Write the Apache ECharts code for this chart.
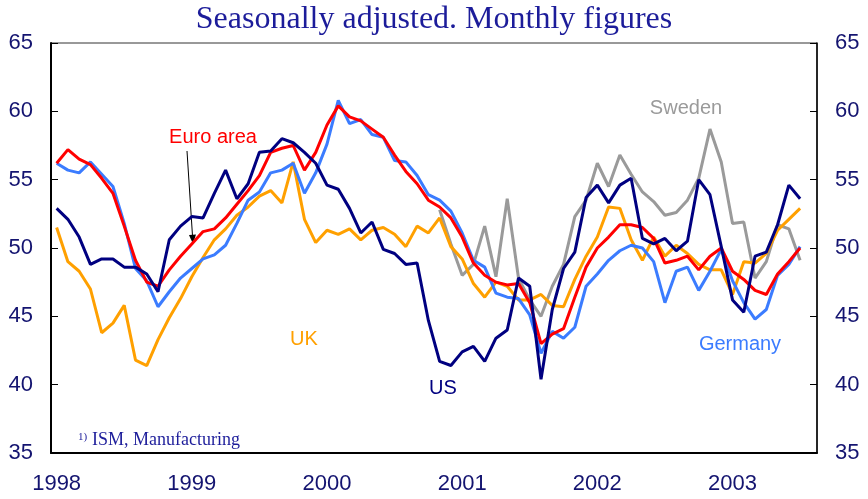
<!DOCTYPE html>
<html>
<head>
	<meta charset="utf-8"/>
	<title>PMI</title>
</head>
<body style="margin: 0; background: #fff;">

	<div id="chart" style="width: 868px; height: 499px;"></div>

	<script src="https://cdn.jsdelivr.net/npm/echarts@6/dist/echarts.min.js"></script>
	<script>

		// months Jan 1998 .. Aug 2003
		var years = ['1998', '1999', '2000', '2001', '2002', '2003'];
		var monthCount = 68;

		var euroArea = [56.2, 57.2, 56.5, 56.1, 55.1, 54.0, 51.6, 49.1, 47.5, 47.2, 48.4, 49.4,
			50.3, 51.2, 51.4, 52.2, 53.2, 54.2, 55.3, 57.0, 57.3, 57.5, 55.7, 57.0,
			59.0, 60.4, 59.6, 59.3, 58.7, 58.1, 56.8, 55.6, 54.7, 53.5, 53.0, 52.2,
			50.8, 48.9, 48.0, 47.5, 47.3, 47.4, 46.0, 43.0, 43.7, 44.1, 46.4, 48.6,
			50.0, 50.8, 51.7, 51.7, 51.5, 50.7, 48.9, 49.1, 49.4, 48.4, 49.4, 50.0,
			48.3, 47.7, 46.9, 46.6, 48.1, 49.0, 50.0];

		var germany = [56.2, 55.7, 55.5, 56.3, 55.4, 54.5, 51.8, 48.5, 47.6, 45.7, 46.8, 47.8,
			48.5, 49.2, 49.5, 50.2, 51.8, 53.5, 54.1, 55.5, 55.7, 56.2, 54.0, 55.5,
			57.6, 60.8, 59.1, 59.4, 58.3, 58.1, 56.4, 56.3, 55.3, 53.9, 53.5, 52.7,
			51.1, 49.1, 48.6, 46.7, 46.4, 46.3, 45.1, 42.3, 43.9, 43.4, 44.2, 47.2,
			48.1, 49.1, 49.8, 50.2, 50.0, 49.0, 46.0, 48.3, 48.6, 46.9, 48.3, 49.9,
			47.6, 46.0, 44.8, 45.5, 48.0, 48.8, 50.1];

		var us = [52.9, 52.1, 50.8, 48.8, 49.2, 49.2, 48.6, 48.6, 48.1, 46.8, 50.6, 51.6,
			52.3, 52.2, 54.0, 55.7, 53.6, 54.7, 57.0, 57.1, 58.0, 57.7, 57.0, 56.2,
			54.6, 54.3, 52.9, 51.1, 51.9, 49.9, 49.6, 48.8, 48.9, 44.7, 41.7, 41.4,
			42.4, 42.8, 41.7, 43.4, 44.0, 47.8, 47.2, 40.4, 45.5, 48.5, 49.7, 53.7,
			54.6, 53.3, 54.6, 55.1, 50.7, 50.3, 50.7, 49.8, 50.5, 55.0, 53.9, 50.1,
			46.2, 45.3, 49.4, 49.7, 51.7, 54.6, 53.6];

		var uk = [51.5, 49.0, 48.3, 47.0, 43.8, 44.5, 45.8, 41.8, 41.4, 43.3, 44.9, 46.3,
			47.9, 49.3, 50.6, 51.4, 52.4, 53.0, 53.8, 54.2, 53.3, 56.3, 52.1, 50.4,
			51.3, 51.0, 51.4, 50.6, 51.3, 51.5, 51.0, 50.1, 51.6, 51.1, 52.2, 50.1,
			49.2, 47.4, 46.4, 47.5, 47.2, 46.2, 46.2, 46.6, 45.8, 45.7, 47.7, 49.4,
			50.8, 53.0, 52.9, 50.6, 49.1, 50.8, 49.4, 50.2, 49.6, 48.8, 48.4, 48.4,
			46.6, 49.0, 48.9, 49.6, 51.3, 52.1, 52.9];

		var sweden = [null, null, null, null, null, null, null, null, null, null, null, null,
			null, null, null, null, null, null, null, null, null, null, null, null,
			null, null, null, null, null, null, null, null, null, null, 52.8, 50.3,
			48.0, 48.8, 51.6, 47.9, 53.6, 47.8, 46.2, 45.0, 47.2, 48.8, 52.3, 53.5,
			56.2, 54.5, 56.8, 55.4, 54.1, 53.4, 52.4, 52.6, 53.5, 55.1, 58.7, 56.3,
			51.8, 51.9, 47.8, 49.0, 51.7, 51.4, 49.1];

		var yTicks = [35, 40, 45, 50, 55, 60, 65];

		var months = [];
		for (var i = 0; i < monthCount; i++) {
			months.push(years[Math.floor(i / 12)] || '2003');
		}

		var textColor = '#141470';
		var labelFont = 'Liberation Sans, Arial, sans-serif';

		function lineSeries (name, data, color) {
			return {
				name: name,
				type: 'line',
				data: data,
				symbol: 'none',
				connectNulls: false,
				lineStyle: { color: color, width: 3 },
				itemStyle: { color: color }
			};
		}

		function yAxisOpt (pos) {
			return {
				type: 'value',
				position: pos,
				min: yTicks[0],
				max: yTicks[yTicks.length - 1],
				interval: 5,
				splitLine: { show: false },
				axisLine: { show: true, lineStyle: { color: '#000', width: pos === 'left' ? 2 : 1.5 } },
				axisTick: { show: true, inside: true, length: 7, lineStyle: { color: '#000' } },
				axisLabel: { color: textColor, fontSize: 22, fontFamily: labelFont, margin: 18 }
			};
		}

		var myChart = echarts.init(document.getElementById('chart'));

		var option = {
			animation: false,
			grid: {
				left: 51, right: 51, top: 43, bottom: 46,
				show: true, borderColor: '#333', borderWidth: 1
			},
			xAxis: {
				type: 'category',
				data: months,
				boundaryGap: true,
				axisLine: { lineStyle: { color: '#000', width: 2 } },
				axisTick: {
					inside: true, length: 7,
					lineStyle: { color: '#000' },
					interval: function (index) { return index % 12 === 0; }
				},
				axisLabel: {
					color: textColor, fontSize: 22, fontFamily: labelFont, margin: 20,
					interval: function (index) { return index % 12 === 0; }
				}
			},
			yAxis: [yAxisOpt('left'), yAxisOpt('right')],
			series: [
				lineSeries('Sweden', sweden, '#9a9a9a'),
				lineSeries('UK', uk, '#ffa000'),
				lineSeries('Germany', germany, '#3b7cff'),
				lineSeries('Euro area', euroArea, '#ff0000'),
				lineSeries('US', us, '#000080')
			],
			graphic: [
				{ type: 'text', left: 'center', top: 4, style: { text: 'Seasonally adjusted. Monthly figures', font: '32px "Liberation Serif", "Times New Roman", serif', fill: '#1c1c9a' } },
				{ type: 'text', x: 213, y: 137, style: { text: 'Euro area', font: '20px ' + labelFont, fill: '#ff0000', align: 'center', verticalAlign: 'middle' } },
				{ type: 'text', x: 686, y: 108, style: { text: 'Sweden', font: '20px ' + labelFont, fill: '#9a9a9a', align: 'center', verticalAlign: 'middle' } },
				{ type: 'text', x: 304, y: 339, style: { text: 'UK', font: '20px ' + labelFont, fill: '#ffa000', align: 'center', verticalAlign: 'middle' } },
				{ type: 'text', x: 443, y: 388, style: { text: 'US', font: '20px ' + labelFont, fill: '#000080', align: 'center', verticalAlign: 'middle' } },
				{ type: 'text', x: 740, y: 344, style: { text: 'Germany', font: '20px ' + labelFont, fill: '#3b7cff', align: 'center', verticalAlign: 'middle' } },
				// arrow from label to euro line
				{ type: 'line', shape: { x1: 187, y1: 151, x2: 192.5, y2: 236 }, style: { stroke: '#000', lineWidth: 1 } },
				{ type: 'polygon', shape: { points: [[189, 235], [196, 234.5], [193, 244]] }, style: { fill: '#000' } },
				// footnote
				{ type: 'text', x: 78, y: 432, style: { text: '1)', font: '11px "Liberation Serif", serif', fill: '#1c1c9a' } },
				{ type: 'text', x: 92, y: 431, style: { text: 'ISM, Manufacturing', font: '18px "Liberation Serif", serif', fill: '#1c1c9a' } }
			]
		};

		myChart.setOption(option);

	</script>
</body>
</html>
